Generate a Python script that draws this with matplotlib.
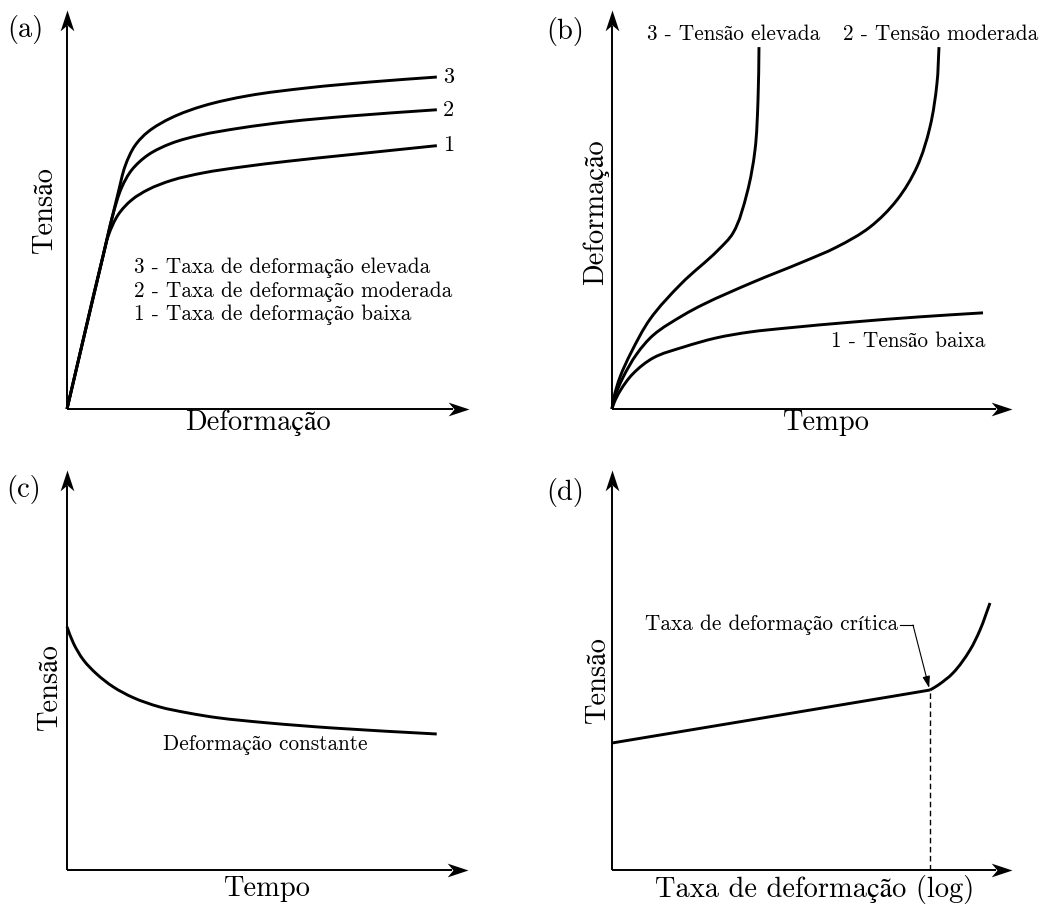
import numpy as np
import matplotlib
matplotlib.use("Agg")
import matplotlib.pyplot as plt
from matplotlib.path import Path
from matplotlib.patches import PathPatch

FONT = ['cmr10', 'STIXGeneral', 'DejaVu Serif']
plt.rcParams['font.family'] = FONT
plt.rcParams['axes.unicode_minus'] = False

W_PX, H_PX = 1043, 905

# ---------------- data (schematic curves, axis units 0..10) ----------------
# (a) Tensão x Deformação for three strain rates
a_x1 = [0, 0.9, 1.03, 1.28, 1.61, 2.02, 2.6, 3.4, 4.3, 5.5, 7.0, 9.2]
a_y1 = [0, 3.85, 4.35, 4.88, 5.24, 5.50, 5.73, 5.92, 6.06, 6.21, 6.37, 6.60]
a_x2 = [0, 0.9, 1.15, 1.36, 1.61, 2.02, 2.6, 3.3, 4.3, 5.5, 7.0, 9.2]
a_y2 = [0, 3.85, 4.90, 5.55, 5.99, 6.37, 6.66, 6.86, 7.04, 7.20, 7.34, 7.50]
a_x3 = [0, 0.9, 1.28, 1.45, 1.69, 2.02, 2.6, 3.4, 4.5, 6.0, 7.6, 9.2]
a_y3 = [0, 3.85, 5.45, 6.10, 6.60, 6.95, 7.30, 7.60, 7.85, 8.05, 8.20, 8.32]
a_end_labels = ['1', '2', '3']
a_legend = ['3 - Taxa de deformação elevada',
            '2 - Taxa de deformação moderada',
            '1 - Taxa de deformação baixa']

# (b) Deformação x Tempo for three stress levels
b_x1 = [0, 0.05, 0.2, 0.52, 1.03, 1.78, 2.6, 3.45, 4.375, 6.025, 7.7, 9.275]
b_y1 = [0, 0.15, 0.45, 0.88, 1.28, 1.55, 1.78, 1.93, 2.03, 2.18, 2.31, 2.41]
b_x2 = [0, 0.05, 0.27, 0.62, 1.03, 1.78, 2.28, 3.53, 4.78, 5.62, 6.45, 7.125, 7.625, 7.95, 8.125, 8.175]
b_y2 = [0, 0.25, 0.78, 1.38, 1.85, 2.35, 2.62, 3.18, 3.69, 4.06, 4.56, 5.24, 6.07, 7.07, 8.17, 9.07]
b_x3 = [0, 0.05, 0.2, 0.47, 0.95, 1.74, 2.65, 3.025, 3.375, 3.575, 3.65, 3.675]
b_y3 = [0, 0.30, 0.80, 1.40, 2.25, 3.15, 3.98, 4.41, 5.41, 6.49, 7.74, 9.07]
b_labels = ['1 - Tensão baixa', '2 - Tensão moderada', '3 - Tensão elevada']

# (c) Tensão x Tempo (relaxação)
c_x = [0, 0.16, 0.41, 0.74, 1.15, 1.65, 2.3, 3.0, 3.73, 4.98, 6.63, 9.22]
c_y = [6.08, 5.67, 5.25, 4.90, 4.58, 4.31, 4.08, 3.93, 3.81, 3.68, 3.55, 3.40]
c_label = 'Deformação constante'

# (d) Tensão x Taxa de deformação (log)
d_x = [0, 7.0, 7.95, 8.15, 8.525, 8.95, 9.2, 9.45]
d_y = [3.175, 4.34, 4.50, 4.62, 4.925, 5.50, 6.00, 6.675]
d_crit_x = 7.95
d_crit_y = 4.50
d_label = 'Taxa de deformação crítica'

# ---------------- helpers ----------------
fig = plt.figure(figsize=(W_PX / 100, H_PX / 100), dpi=100)


def fx(px):
    return px / W_PX


def fy(py):
    return 1 - py / H_PX


def make_ax(ox, oy, w, h):
    ax = fig.add_axes([fx(ox), fy(oy), w / W_PX, h / H_PX])
    ax.set_xlim(0, 10)
    ax.set_ylim(0, 10)
    ax.axis('off')
    return ax


def arrow_marker(angle):
    v = np.array([(0, 0), (-1, 0.33), (-0.72, 0), (-1, -0.33), (0, 0)])
    t = np.deg2rad(angle)
    R = np.array([[np.cos(t), -np.sin(t)], [np.sin(t), np.cos(t)]])
    v = v @ R.T
    return Path(v, [Path.MOVETO, Path.LINETO, Path.LINETO, Path.LINETO, Path.CLOSEPOLY])


def draw_axes(ax):
    ax.plot([0, 9.6], [0, 0], color='black', lw=1.4, solid_capstyle='butt', clip_on=False)
    ax.plot([0, 0], [0, 9.6], color='black', lw=1.4, solid_capstyle='butt', clip_on=False)
    ax.plot([10], [0], marker=arrow_marker(0), ms=30, color='black', mew=0, clip_on=False)
    ax.plot([0], [10], marker=arrow_marker(90), ms=30, color='black', mew=0, clip_on=False)


def smooth(ax, xs, ys, lw=2.1):
    P = np.column_stack([xs, ys]).astype(float)
    n = len(P)
    d = np.zeros_like(P)
    for i in range(n):
        if i == 0:
            v = P[1] - P[0]
        elif i == n - 1:
            v = P[-1] - P[-2]
        else:
            v = (P[i + 1] - P[i]) / max(np.linalg.norm(P[i + 1] - P[i]), 1e-9) + \
                (P[i] - P[i - 1]) / max(np.linalg.norm(P[i] - P[i - 1]), 1e-9)
        d[i] = v / max(np.linalg.norm(v), 1e-9)
    verts = [P[0]]
    codes = [Path.MOVETO]
    for i in range(n - 1):
        L = np.linalg.norm(P[i + 1] - P[i])
        verts += [P[i] + d[i] * L / 3, P[i + 1] - d[i + 1] * L / 3, P[i + 1]]
        codes += [Path.CURVE4] * 3
    ax.add_patch(PathPatch(Path(verts, codes), fill=False, lw=lw, edgecolor='black',
                           capstyle='butt', joinstyle='round', clip_on=False))


SMALL = 15.3
BIG = 20.5
PANEL = 20.5
NUM = 16

# ---------------- (a) ----------------
ax_a = make_ax(67, 409, 402, 399)
draw_axes(ax_a)
for xs, ys in [(a_x1, a_y1), (a_x2, a_y2), (a_x3, a_y3)]:
    smooth(ax_a, xs, ys)
for lab, ys in zip(a_end_labels, [a_y1, a_y2, a_y3]):
    ax_a.text(9.5, ys[-1], lab, fontsize=NUM, ha='center', va='center')
for i, line in enumerate(a_legend):
    fig.text(fx(134), fy(268 + 23.5 * i), line, fontsize=SMALL, ha='left', va='center')
fig.text(fx(25), fy(30), '(a)', fontsize=PANEL, ha='center', va='center')
fig.text(fx(45), fy(210), 'Tensão', fontsize=BIG, ha='center', va='center', rotation=90)
fig.text(fx(258), fy(423), 'Deformação', fontsize=BIG, ha='center', va='center')

# ---------------- (b) ----------------
ax_b = make_ax(612, 409, 400, 399)
draw_axes(ax_b)
for xs, ys in [(b_x1, b_y1), (b_x2, b_y2), (b_x3, b_y3)]:
    smooth(ax_b, xs, ys)
fig.text(fx(985), fy(341), b_labels[0], fontsize=SMALL, ha='right', va='center')
fig.text(fx(1038), fy(34), b_labels[1], fontsize=SMALL, ha='right', va='center')
fig.text(fx(820), fy(34), b_labels[2], fontsize=SMALL, ha='right', va='center')
fig.text(fx(565), fy(31), '(b)', fontsize=PANEL, ha='center', va='center')
fig.text(fx(596), fy(212), 'Deformação', fontsize=BIG, ha='center', va='center', rotation=90)
fig.text(fx(826), fy(423), 'Tempo', fontsize=BIG, ha='center', va='center')

# ---------------- (c) ----------------
ax_c = make_ax(67, 870, 401, 400)
draw_axes(ax_c)
smooth(ax_c, c_x, c_y)
fig.text(fx(265), fy(745), c_label, fontsize=SMALL, ha='center', va='center')
fig.text(fx(24), fy(490), '(c)', fontsize=PANEL, ha='center', va='center')
fig.text(fx(50), fy(687), 'Tensão', fontsize=BIG, ha='center', va='center', rotation=90)
fig.text(fx(267), fy(889), 'Tempo', fontsize=BIG, ha='center', va='center')

# ---------------- (d) ----------------
ax_d = make_ax(612, 870, 400, 400)
draw_axes(ax_d)
ax_d.plot([d_crit_x, d_crit_x], [0, d_crit_y], color='black', lw=1.0, ls=(0, (4, 2.5)))
smooth(ax_d, d_x[:3], d_y[:3])
smooth(ax_d, d_x[2:], d_y[2:])
ax_d.text(7.15, 6.125, d_label, fontsize=SMALL, ha='right', va='center')
ax_d.plot([7.2, 7.525], [6.125, 6.125], color='black', lw=0.8)
ax_d.annotate('', xy=(d_crit_x - 0.02, d_crit_y + 0.05), xytext=(7.525, 6.125),
              arrowprops=dict(arrowstyle='-|>,head_length=0.7,head_width=0.22',
                              color='black', lw=0.8, shrinkA=0, shrinkB=0))
fig.text(fx(565), fy(492), '(d)', fontsize=PANEL, ha='center', va='center')
fig.text(fx(598), fy(680), 'Tensão', fontsize=BIG, ha='center', va='center', rotation=90)
fig.text(fx(815), fy(889), 'Taxa de deformação (log)', fontsize=BIG, ha='center', va='center')

fig.savefig('out.png', dpi=100, facecolor='white')
